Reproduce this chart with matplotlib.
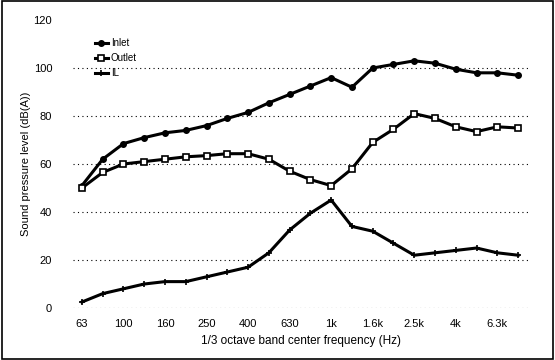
import numpy as np
import matplotlib
matplotlib.use('Agg')
import matplotlib.pyplot as plt
from matplotlib.patches import Rectangle

plt.rcParams['font.family'] = ['Liberation Sans', 'DejaVu Sans']

# 1/3 octave bands 63 Hz .. 8 kHz
bands = ['63', '80', '100', '125', '160', '200', '250', '315', '400', '500',
         '630', '800', '1k', '1.25k', '1.6k', '2k', '2.5k', '3.15k', '4k',
         '5k', '6.3k', '8k']

inlet = [51, 62, 68.5, 71, 73, 74, 76, 79, 81.5, 85.5, 89, 92.5,
         96, 92, 100, 101.5, 103, 102, 99.5, 98, 98, 97]
outlet = [50, 56.5, 60, 61, 62, 63, 63.5, 64.3, 64.3, 62, 57, 53.5,
          51, 58, 69, 74.5, 81, 79, 75.5, 73.5, 75.5, 75]
reduction = [2.5, 6, 8, 10, 11, 11, 13, 15, 17, 23, 32.5, 39.5,
             45, 34, 32, 27, 22, 23, 24, 25, 23, 22]

x = np.arange(len(bands))

fig = plt.figure(figsize=(5.55, 3.6), dpi=100)
ax = fig.add_axes([0.1315, 0.1444, 0.82, 0.8])

ax.plot(x, inlet, '-', color='black', lw=2.2, marker='o', ms=4,
        mfc='black', label='Inlet')
ax.plot(x, outlet, '-', color='black', lw=2.2, marker='s', ms=4,
        mfc='white', mew=1.2, label='Outlet')
ax.plot(x, reduction, '-', color='black', lw=2.2, marker='+', ms=5,
        mew=1.2, label='IL')

# dotted grid lines
for yv in [0, 20, 40, 60, 80, 100]:
    ax.axhline(yv, color='black', lw=0.8, ls=(0, (1, 3)), zorder=0)

ax.set_xlim(-0.43, 21.48)
ax.set_ylim(0, 120)
ax.set_yticks(range(0, 121, 20))
ax.set_xticks(x[::2])
ax.set_xticklabels(bands[::2])
ax.tick_params(length=0, labelsize=8, pad=8)
ax.tick_params(axis='y', pad=15)
for s in ax.spines.values():
    s.set_visible(False)

ax.set_xlabel('1/3 octave band center frequency (Hz)', fontsize=8.5, labelpad=4)
ax.set_ylabel('Sound pressure level (dB(A))', fontsize=8, labelpad=2)

ax.legend(loc='upper left', bbox_to_anchor=(0.04, 0.95), frameon=False,
          fontsize=7, handlelength=1.3, labelspacing=0.5, borderaxespad=0,
          handletextpad=0.3)

# border around the whole picture
fig.patches.append(Rectangle((0.004, 0.004), 0.992, 0.992, transform=fig.transFigure,
                             fill=False, edgecolor='black', lw=1.2))

fig.savefig('out.png', dpi=100)
